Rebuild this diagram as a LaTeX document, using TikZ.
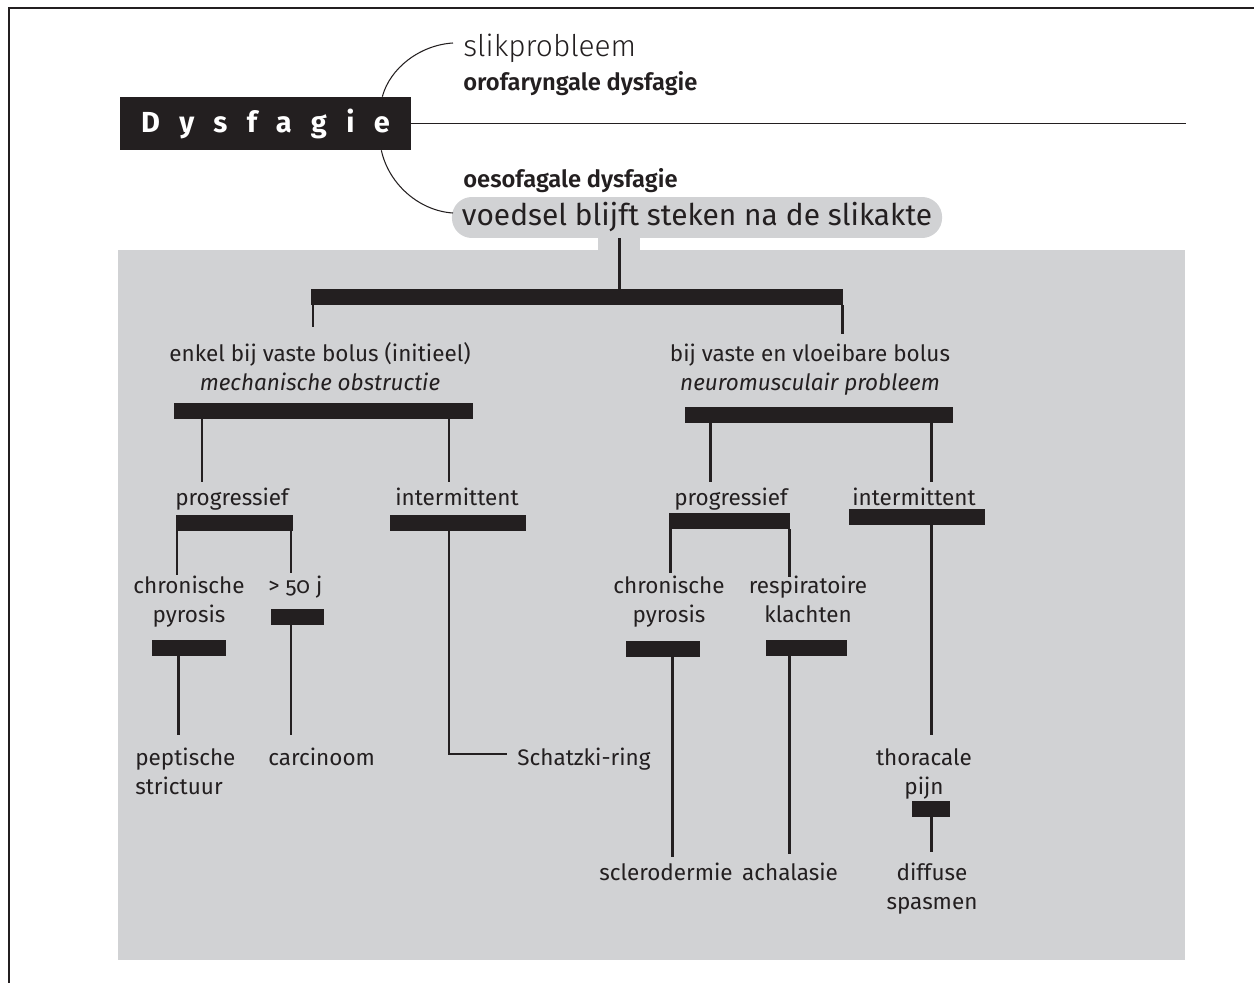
\documentclass[tikz,border=0pt]{standalone}
\usepackage{fontspec}
\setmainfont{Fira Sans}[Numbers=OldStyle]
\newfontfamily\lightfont{Fira Sans Light}
\newfontfamily\semifont{Fira Sans SemiBold}
\usepackage{xcolor}
\definecolor{ink}{HTML}{231F20}
\definecolor{panel}{HTML}{D1D2D4}
\usetikzlibrary{positioning}

\begin{document}
\begin{tikzpicture}[
  x=0.02cm, y=-0.02cm,
  txt/.style={font=\fontsize{12.8}{16.4}\selectfont, text=ink, inner sep=0pt, align=center, anchor=base},
  bar/.style={fill=ink, inner sep=0pt, minimum height=0.32cm, minimum width=#1},
  stem/.style={draw=ink, line width=1.7pt},
  hair/.style={draw=ink, line width=0.6pt}
]
\useasboundingbox (0,0) rectangle (1254,983);

\fill[panel] (118,250) rectangle (1185,960);
\fill[panel] (598,230) rectangle (640,252);
\draw[hair] (1254,8) -- (9,8) -- (9,983);

\node[fill=ink, inner sep=0pt, minimum width=5.82cm, minimum height=1.06cm, text=white, font=\fontsize{16.5}{20}\selectfont\bfseries\addfontfeature{LetterSpace=67}] (dys) at (265.5,123.5) {Dysfagie};
\node[anchor=base west, inner sep=0pt, text=ink, font=\lightfont\fontsize{17}{20}\selectfont] (slik) at (463,57) {slikprobleem};
\node[anchor=base west, inner sep=0pt, text=ink, font=\semifont\fontsize{13.5}{16}\selectfont] (oro) at (463,91) {orofaryngale dysfagie};
\node[anchor=base west, inner sep=0pt, text=ink, font=\semifont\fontsize{13.5}{16}\selectfont] (oes) at (463,188) {oesofagale dysfagie};
\node[fill=panel, rounded corners=0.4cm, inner xsep=0.2cm, inner ysep=0pt, minimum height=0.82cm, text height=12.5pt, text depth=3.5pt, text=ink, font=\fontsize{17}{20}\selectfont] (pill) at (697,217.5) {voedsel blijft steken na de slikakte};

\coordinate (lineend) at (1186,0);
\coordinate (a1) at (453,43);
\coordinate (a2) at (453,213);
\draw[hair] (dys.east) -- (dys.east -| lineend);
\draw[hair] ([xshift=-0.58cm]dys.north east) .. controls (390,68) and (420,45) .. (a1);
\draw[hair] ([xshift=-0.6cm]dys.south east) .. controls (389,185) and (420,211) .. (a2);

\node[bar=10.64cm] (topbar) at (577,297) {};
\node[bar=5.98cm] (mechbar) at (323.5,410.5) {};
\node[bar=5.36cm] (neurobar) at (819,415) {};
\node[bar=2.34cm] (progbarL) at (234.5,522.5) {};
\node[bar=2.72cm] (intbarL) at (458,522.5) {};
\node[bar=2.42cm] (progbarR) at (729.5,521) {};
\node[bar=2.72cm] (intbarR) at (917,517) {};
\node[bar=1.47cm] (chronbarL) at (189,648) {};
\node[bar=1.06cm] (agebar) at (297.5,616.5) {};
\node[bar=1.48cm] (chronbarR) at (663,649) {};
\node[bar=1.62cm] (respbar) at (806.5,648) {};
\node[bar=0.76cm] (thorbar) at (931,808.5) {};

\node[txt] (mech) at (320,390) {enkel bij vaste bolus (initieel)\\\textit{mechanische obstructie}};
\node[txt] (neuro) at (810,390) {bij vaste en vloeibare bolus\\\textit{neuromusculair probleem}};
\node[txt] (progL) at (232,505) {progressief};
\node[txt] (intL) at (457,505) {intermittent};
\node[txt] (progR) at (731,505) {progressief};
\node[txt] (intR) at (914,505) {intermittent};
\node[txt] (chronL) at (189,622) {chronische\\pyrosis};
\node[txt, anchor=base west] (age) at (268,593) {> 50 j};
\node[txt] (chronR) at (669,622) {chronische\\pyrosis};
\node[txt] (resp) at (808,622) {respiratoire\\klachten};
\node[txt, anchor=base west, align=left] (pept) at (135,794) {peptische\\strictuur};
\node[txt, anchor=base west] (carc) at (268,765) {carcinoom};
\node[txt, anchor=base west] (schatzki) at (517,765) {Schatzki-ring};
\node[txt] (thor) at (924,794) {thoracale\\pijn};
\node[txt] (sclero) at (666,880) {sclerodermie};
\node[txt] (achal) at (790,880) {achalasie};
\node[txt] (diffuse) at (932,909) {diffuse\\spasmen};

\coordinate (s0) at (619,0);
\coordinate (d1) at (313,327);
\coordinate (d2) at (842,334);
\coordinate (d3) at (202,482);
\coordinate (d4) at (449,482);
\coordinate (d5) at (710,482);
\coordinate (d6) at (931,482);
\coordinate (d7) at (177,575);
\coordinate (d8) at (291,573);
\coordinate (kink) at (449,754);
\coordinate (d9) at (507,754);
\coordinate (d10) at (670,573);
\coordinate (d11) at (789,577);
\coordinate (d12) at (931,735);
\coordinate (d13) at (178.5,735);
\coordinate (d14) at (291,735);
\coordinate (d15) at (672,857);
\coordinate (d16) at (789,854);
\coordinate (d17) at (931,852);

\draw[stem] (pill.south -| s0) -- (topbar.north -| s0);
\draw[stem] (topbar.south -| d1) -- (d1);
\draw[stem] (topbar.south -| d2) -- (d2);
\draw[stem] (mechbar.south -| d3) -- (d3);
\draw[stem] (mechbar.south -| d4) -- (d4);
\draw[stem] (neurobar.south -| d5) -- (d5);
\draw[stem] (neurobar.south -| d6) -- (d6);
\draw[stem] (progbarL.south -| d7) -- (d7);
\draw[stem] (progbarL.south -| d8) -- (d8);
\draw[stem] (intbarL.south -| kink) -- (kink) -- (d9);
\draw[stem] (progbarR.south -| d10) -- (d10);
\draw[stem] (progbarR.south -| d11) -- (d11);
\draw[stem] (intbarR.south -| d12) -- (d12);
\draw[stem] (chronbarL.south -| d13) -- (d13);
\draw[stem] (agebar.south -| d14) -- (d14);
\draw[stem] (chronbarR.south -| d15) -- (d15);
\draw[stem] (respbar.south -| d16) -- (d16);
\draw[stem] (thorbar.south -| d17) -- (d17);

\end{tikzpicture}
\end{document}
